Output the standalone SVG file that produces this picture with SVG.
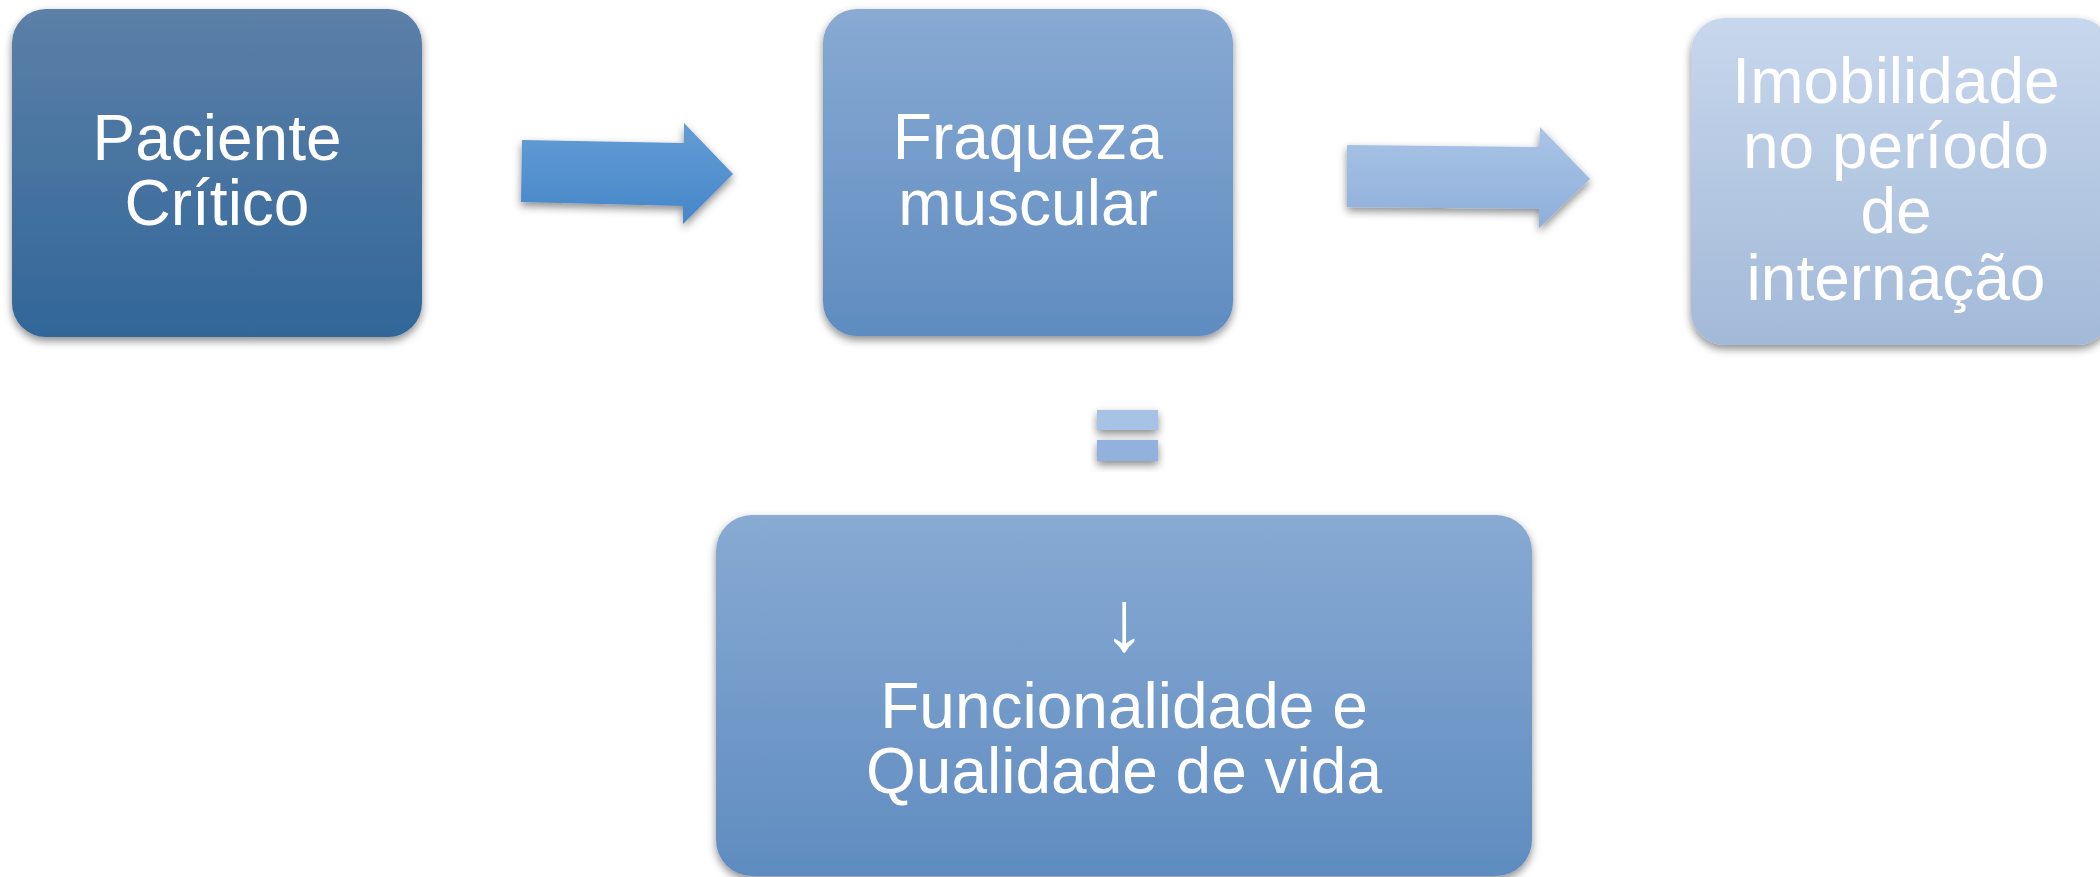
<svg xmlns="http://www.w3.org/2000/svg" width="2100" height="877" viewBox="0 0 2100 877">
<defs>
<linearGradient id="g1" x1="0" y1="0" x2="0" y2="1"><stop offset="0" stop-color="#5c80a8"/><stop offset="1" stop-color="#326699"/></linearGradient>
<linearGradient id="g2" x1="0" y1="0" x2="0" y2="1"><stop offset="0" stop-color="#88aad3"/><stop offset="1" stop-color="#5f8cc0"/></linearGradient>
<linearGradient id="g3" x1="0" y1="0" x2="0" y2="1"><stop offset="0" stop-color="#c7d7ed"/><stop offset="1" stop-color="#a3b9d8"/></linearGradient>
<linearGradient id="ga1" x1="0" y1="0" x2="0" y2="1"><stop offset="0" stop-color="#639dd4"/><stop offset="1" stop-color="#4686c9"/></linearGradient>
<linearGradient id="ga2" x1="0" y1="0" x2="0" y2="1"><stop offset="0" stop-color="#a9c4e6"/><stop offset="1" stop-color="#8eafdb"/></linearGradient>
<filter id="sh" x="-10%" y="-10%" width="120%" height="130%"><feDropShadow dx="0" dy="4" stdDeviation="4" flood-color="#000" flood-opacity="0.45"/></filter>
</defs>
<style>
text{font-family:"Liberation Sans",Arial,sans-serif;font-size:64px;fill:#ffffff;text-anchor:middle}
.arr{font-size:86px}
</style>
<g id="connectors">
<polygon filter="url(#sh)" fill="url(#ga1)" points="522,140 684,143 684,123 733,174 683,224 683,206 521,202"/>
<polygon filter="url(#sh)" fill="url(#ga2)" points="1347,145 1539,147 1540,127 1590,179 1539,228 1539,209 1347,207"/>
<g id="equals" filter="url(#sh)">
<rect x="1097" y="410" width="61" height="20" fill="#a6c2e5"/>
<rect x="1097" y="440" width="61" height="21" fill="#92b2dd"/>
</g>
</g>
<g id="n1">
<rect x="12" y="9" width="410" height="328" rx="34" fill="url(#g1)" filter="url(#sh)"/>
<text x="217" y="160">Paciente</text>
<text x="217" y="225">Crítico</text>
</g>
<g id="n2">
<rect x="823" y="9" width="410" height="327" rx="34" fill="url(#g2)" filter="url(#sh)"/>
<text x="1028" y="159">Fraqueza</text>
<text x="1028" y="225">muscular</text>
</g>
<g id="n3">
<rect x="1691" y="18" width="420" height="327" rx="34" fill="url(#g3)" filter="url(#sh)"/>
<text x="1896" y="103">Imobilidade</text>
<text x="1896" y="168">no período</text>
<text x="1896" y="233">de</text>
<text x="1896" y="300">internação</text>
</g>
<g id="n4">
<rect x="716" y="515" width="816" height="361" rx="36" fill="url(#g2)" filter="url(#sh)"/>
<text class="arr" x="1124" y="650">↓</text>
<text x="1124" y="728">Funcionalidade e</text>
<text x="1124" y="793">Qualidade de vida</text>
</g>
</svg>
